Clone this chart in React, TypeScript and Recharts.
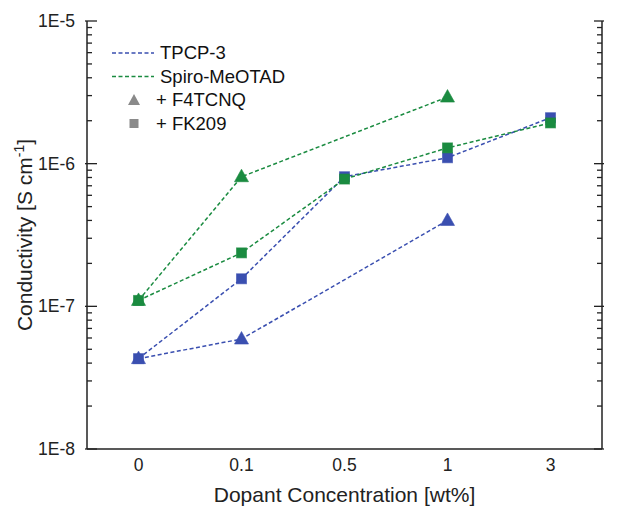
import React from 'react';
import { LineChart, Line, XAxis, YAxis, Legend } from 'recharts';

// dopant concentrations (wt%)
const categories = ['0', '0.1', '0.5', '1', '3'];

// conductivity values in S/cm, null = not measured
const tpcpF4tcnq = [4.3e-8, 5.9e-8, null, 4.0e-7, null];
const tpcpFk209 = [4.3e-8, 1.56e-7, 8.1e-7, 1.1e-6, 2.1e-6];
const spiroF4tcnq = [1.1e-7, 8.1e-7, null, 2.93e-6, null];
const spiroFk209 = [1.1e-7, 2.37e-7, 7.8e-7, 1.29e-6, 1.93e-6];

const decades = [1e-8, 1e-7, 1e-6, 1e-5];
const minorSteps = [2, 3, 4, 5, 6, 7, 8, 9];

const BLUE = '#3a4fb0';
const GREEN = '#1a8b40';
const FONT = '"Liberation Sans", Arial, sans-serif';

const data = categories.map((c, i) => ({
  x: c,
  tpcpF4tcnq: tpcpF4tcnq[i],
  tpcpFk209: tpcpFk209[i],
  spiroF4tcnq: spiroF4tcnq[i],
  spiroFk209: spiroFk209[i],
}));

const yTicks: number[] = [];
decades.forEach((d, i) => {
  yTicks.push(d);
  if (i < decades.length - 1) minorSteps.forEach((m) => yTicks.push(d * m));
});

const isMajor = (v: number) => decades.some((d) => Math.abs(v - d) / d < 1e-6);

const LeftTick = (props: any) => {
  const { x, y, payload } = props;
  const major = isMajor(payload.value);
  return (
    <g>
      <line x1={major ? x - 2 : x} x2={x + (major ? 10 : 5)} y1={y} y2={y} stroke="#222" strokeWidth={1.3} />
      {major && (
        <text x={x - 12} y={y} dy="0.35em" textAnchor="end" fontSize={17.5} fontFamily={FONT} fill="#222">
          {`1E${Math.round(Math.log10(payload.value))}`}
        </text>
      )}
    </g>
  );
};

const RightTick = (props: any) => {
  const { x, y, payload } = props;
  const major = isMajor(payload.value);
  return <line x1={x - (major ? 8 : 5)} x2={major ? x + 2 : x} y1={y} y2={y} stroke="#222" strokeWidth={1.3} />;
};

const triangle = (color: string) => (props: any) => {
  const { cx, cy, index } = props;
  if (cx == null || cy == null) return <g key={index} />;
  return (
    <polygon
      key={index}
      points={`${cx},${cy - 7.5} ${cx - 7},${cy + 5} ${cx + 7},${cy + 5}`}
      fill={color}
      stroke={color}
      strokeOpacity={0.6}
    />
  );
};

const square = (color: string) => (props: any) => {
  const { cx, cy, index } = props;
  if (cx == null || cy == null) return <g key={index} />;
  return <rect key={index} x={cx - 5} y={cy - 5} width={10} height={10} fill={color} stroke={color} strokeOpacity={0.6} />;
};

const legendItems = [
  { label: 'TPCP-3', kind: 'line', color: BLUE },
  { label: 'Spiro-MeOTAD', kind: 'line', color: GREEN },
  { label: '+ F4TCNQ', kind: 'triangle', color: '#8a8a8a' },
  { label: '+ FK209', kind: 'square', color: '#8a8a8a' },
];

const renderLegend = () => (
  <svg width={200} height={110}>
    {legendItems.map((item, i) => {
      const y = 13 + i * 23.5;
      return (
        <g key={item.label}>
          {item.kind === 'line' && (
            <line x1={12} x2={54} y1={y} y2={y} stroke={item.color} strokeWidth={1.5} strokeDasharray="4 2.5" />
          )}
          {item.kind === 'triangle' && (
            <polygon points={`34,${y - 6} ${28},${y + 5} ${40},${y + 5}`} fill={item.color} />
          )}
          {item.kind === 'square' && <rect x={29.5} y={y - 4.5} width={9} height={9} fill={item.color} />}
          <text
            x={item.kind === 'line' ? 60 : 56}
            y={y}
            dy="0.35em"
            fontSize={18.5}
            fontFamily={FONT}
            fill="#111"
          >
            {item.label}
          </text>
        </g>
      );
    })}
  </svg>
);

const App: React.FC = () => {
  return (
    <div style={{ position: 'absolute', left: 0, top: 0, background: '#fff' }}>
      <LineChart width={617} height={506} data={data} margin={{ top: 21, right: 0, left: 0, bottom: 0 }}>
        <XAxis
          dataKey="x"
          height={57}
          padding={{ left: 51.5, right: 51.5 }}
          tickLine={false}
          tickSize={0}
          tickMargin={10}
          axisLine={{ stroke: '#222', strokeWidth: 1.5 }}
          tick={{ fontSize: 17.5, fontFamily: FONT, fill: '#222' }}
          interval={0}
          label={{
            value: 'Dopant Concentration [wt%]',
            position: 'insideBottom',
            offset: 4,
            style: { fontSize: 21, fontFamily: FONT, fill: '#222' },
          }}
        />
        <XAxis
          xAxisId="top"
          dataKey="x"
          orientation="top"
          height={0}
          tick={false}
          tickLine={false}
          padding={{ left: 51.5, right: 51.5 }}
          axisLine={{ stroke: '#222', strokeWidth: 1.5 }}
        />
        <YAxis
          yAxisId="left"
          scale="log"
          domain={[1e-8, 1e-5]}
          ticks={yTicks}
          interval={0}
          width={87}
          tickLine={false}
          tickSize={0}
          tickMargin={0}
          axisLine={{ stroke: '#222', strokeWidth: 1.5 }}
          tick={<LeftTick />}
          allowDataOverflow
          label={{
            content: () => (
              <text
                x={32}
                y={235}
                transform="rotate(-90 32 235)"
                textAnchor="middle"
                fontSize={21}
                fontFamily={FONT}
                fill="#222"
              >
                Conductivity [S cm
                <tspan dy={-8} fontSize={14}>-1</tspan>
                <tspan dy={8}>]</tspan>
              </text>
            ),
          }}
        />
        <YAxis
          yAxisId="right"
          orientation="right"
          scale="log"
          domain={[1e-8, 1e-5]}
          ticks={yTicks}
          interval={0}
          width={15}
          tickLine={false}
          tickSize={0}
          tickMargin={0}
          axisLine={{ stroke: '#222', strokeWidth: 1.5 }}
          tick={<RightTick />}
          allowDataOverflow
        />
        <Legend
          layout="horizontal"
          verticalAlign="middle"
          align="center"
          content={renderLegend}
          wrapperStyle={{ position: 'absolute', left: 100, top: 40, width: 200, height: 110 }}
        />
        <Line
          yAxisId="left"
          dataKey="tpcpF4tcnq"
          stroke={BLUE}
          strokeWidth={1.5}
          strokeDasharray="4 2.5"
          connectNulls
          dot={triangle(BLUE)}
          activeDot={false}
          isAnimationActive={false}
        />
        <Line
          yAxisId="left"
          dataKey="tpcpFk209"
          stroke={BLUE}
          strokeWidth={1.5}
          strokeDasharray="4 2.5"
          connectNulls
          dot={square(BLUE)}
          activeDot={false}
          isAnimationActive={false}
        />
        <Line
          yAxisId="left"
          dataKey="spiroFk209"
          stroke={GREEN}
          strokeWidth={1.5}
          strokeDasharray="4 2.5"
          connectNulls
          dot={square(GREEN)}
          activeDot={false}
          isAnimationActive={false}
        />
        <Line
          yAxisId="left"
          dataKey="spiroF4tcnq"
          stroke={GREEN}
          strokeWidth={1.5}
          strokeDasharray="4 2.5"
          connectNulls
          dot={triangle(GREEN)}
          activeDot={false}
          isAnimationActive={false}
        />
      </LineChart>
    </div>
  );
};

export default App;
